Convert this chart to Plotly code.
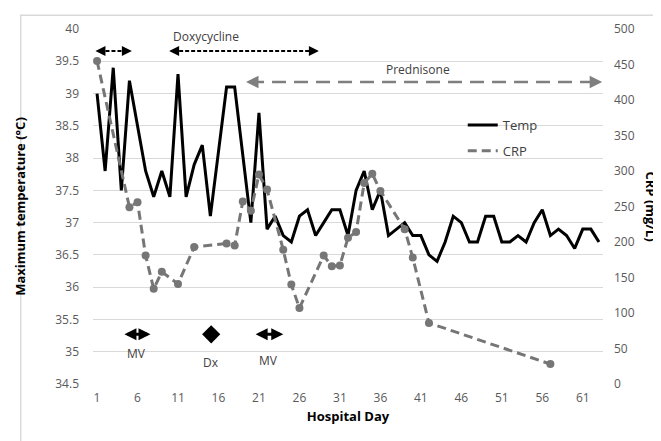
import plotly.graph_objects as go

# ---------------- data ----------------
temp_days = list(range(1, 64))
temp_values = [39.0, 37.8, 39.4, 37.5, 39.2, 38.5, 37.8, 37.4, 37.8, 37.4,
               39.3, 37.4, 37.9, 38.2, 37.1, 38.1, 39.1, 39.1, 38.0, 37.0,
               38.7, 36.9, 37.1, 36.8, 36.7, 37.1, 37.2, 36.8, 37.0, 37.2,
               37.2, 36.8, 37.5, 37.8, 37.2, 37.5, 36.8, 36.9, 37.0, 36.8,
               36.8, 36.5, 36.4, 36.7, 37.1, 37.0, 36.7, 36.7, 37.1, 37.1,
               36.7, 36.7, 36.8, 36.7, 37.0, 37.2, 36.8, 36.9, 36.8, 36.6,
               36.9, 36.9, 36.7]

crp_days = [1, 5, 6, 7, 8, 9, 11, 13, 17, 18, 19, 20, 21, 22, 24, 25, 26,
            29, 30, 31, 32, 33, 34, 35, 36, 39, 40, 42, 57]
crp_values = [455, 249, 256, 181, 134, 158, 141, 193, 198, 195, 257, 244, 295,
              274, 189, 140, 107, 181, 166, 167, 206, 214, 283, 296, 272, 218,
              178, 86, 28]

x_tick_labels = [1, 6, 11, 16, 21, 26, 31, 36, 41, 46, 51, 56, 61]

# treatment / event periods (hospital days)
doxy_periods = [(0.8, 5.3), (9.9, 28.4)]
prednisone_period = (19.4, 63.4)
mv_periods = [(4.2, 7.6), (20.4, 24.0)]
dx_day = 15.1

FONT = "Open Sans"
GRAY_TXT = "#595959"
CRP_COLOR = "#767676"
CRP_DASH = "9px,5px"

fig = go.Figure()

fig.add_trace(go.Scatter(
    x=temp_days, y=temp_values, name="Temp", mode="lines",
    line=dict(color="black", width=3), legendgroup="a"))

fig.add_trace(go.Scatter(
    x=crp_days, y=crp_values, name="CRP", mode="lines+markers", yaxis="y2",
    line=dict(color=CRP_COLOR, width=3, dash=CRP_DASH),
    marker=dict(color=CRP_COLOR, size=8), showlegend=False))

# legend entry for CRP (line only, as in the reference legend)
fig.add_trace(go.Scatter(
    x=[None], y=[None], name="CRP", mode="lines", yaxis="y2",
    line=dict(color=CRP_COLOR, width=3, dash=CRP_DASH), legendgroup="b"))

# Dx diamond
fig.add_trace(go.Scatter(
    x=[dx_day], y=[35.27], mode="markers", showlegend=False,
    marker=dict(symbol="diamond", size=14, color="black")))

shapes = []
annotations = []

def dashed_double_arrow(x0, x1, y, color, dash, width):
    shapes.append(dict(type="line", xref="x", yref="y", x0=x0 + 0.5, x1=x1 - 0.5,
                       y0=y, y1=y, line=dict(color=color, width=width, dash=dash)))
    for xe, off in ((x0, 10), (x1, -10)):
        annotations.append(dict(x=xe, y=y, xref="x", yref="y", ax=off, ay=0,
                                showarrow=True, arrowhead=2, arrowsize=1,
                                arrowwidth=width, arrowcolor=color, text=""))

for a, b in doxy_periods:
    dashed_double_arrow(a, b, 39.66, "black", "4px,2px", 2)
dashed_double_arrow(prednisone_period[0], prednisone_period[1], 39.18,
                    "#7f7f7f", "14px,8px", 2.5)

annotations.append(dict(x=14.4, y=39.88, xref="x", yref="y", text="Doxycycline",
                        showarrow=False, font=dict(size=12, color="#404040", family=FONT)))
annotations.append(dict(x=40.6, y=39.38, xref="x", yref="y", text="Prednisone",
                        showarrow=False, font=dict(size=12, color="#404040", family=FONT)))

for (a, b), ly in zip(mv_periods, (34.97, 34.87)):
    annotations.append(dict(x=b, y=35.27, ax=a, ay=35.27, xref="x", yref="y",
                            axref="x", ayref="y", showarrow=True, arrowhead=2,
                            arrowside="end+start", arrowsize=0.8, arrowwidth=3,
                            arrowcolor="black", text=""))
    annotations.append(dict(x=(a + b) / 2, y=ly, xref="x", yref="y", text="MV",
                            showarrow=False, font=dict(size=12, color="#404040", family=FONT)))

annotations.append(dict(x=dx_day, y=34.84, xref="x", yref="y", text="Dx",
                        showarrow=False, font=dict(size=12, color="#404040", family=FONT)))

# right axis title (reads top to bottom)
annotations.append(dict(x=1.0, xshift=48, y=0.5, xref="paper", yref="paper",
                        text="<b>CRP (mg/L)</b>", textangle=90, showarrow=False,
                        xanchor="center", yanchor="middle",
                        font=dict(size=13, color="black", family=FONT)))

# chart area border
shapes.append(dict(type="rect", xref="paper", yref="paper",
                   x0=-0.1418, x1=1.2, y0=-0.3, y1=1.0389,
                   line=dict(color="#d9d9d9", width=1.5), layer="below"))

fig.update_layout(
    width=653, height=433,
    margin=dict(l=78, r=58, t=16, b=57),
    paper_bgcolor="white", plot_bgcolor="white",
    font=dict(family=FONT, size=12, color=GRAY_TXT),
    shapes=shapes, annotations=annotations,
    legend=dict(x=0.725, y=0.772, xanchor="left", yanchor="top",
                bgcolor="rgba(0,0,0,0)", font=dict(size=13, color="#404040"),
                traceorder="grouped", tracegroupgap=6),
    xaxis=dict(range=[0.5, 63.5], tickvals=x_tick_labels,
               ticktext=[str(v) for v in x_tick_labels], showgrid=False,
               zeroline=False, showline=False, ticks="", ticklabelstandoff=5,
               title=dict(text="<b>Hospital Day</b>", font=dict(size=13, color="black"),
                          standoff=6)),
    yaxis=dict(range=[34.5, 40], dtick=0.5, showgrid=True, gridcolor="#d9d9d9",
               gridwidth=1, zeroline=False, showline=False, ticks="",
               ticklabelstandoff=13,
               title=dict(text="<b>Maximum temperature (°C)</b>",
                          font=dict(size=13, color="black"), standoff=26)),
    yaxis2=dict(range=[0, 500], dtick=50, overlaying="y", side="right",
                showgrid=False, zeroline=False, showline=False, ticks="",
                ticklabelstandoff=10),
)

fig.write_html("out.html")
